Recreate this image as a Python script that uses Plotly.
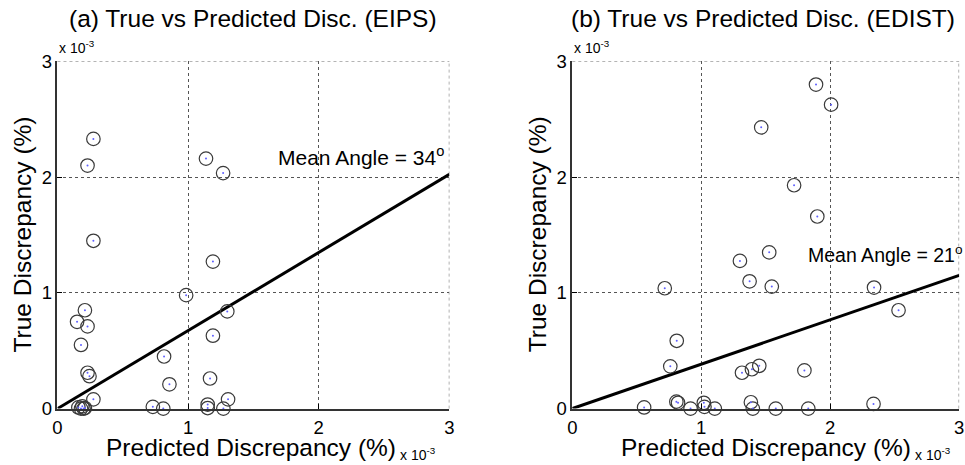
import numpy as np
import plotly.graph_objects as go

# Discrepancies in units of 1e-3 (%)
eips_pred = [0.275, 0.23, 0.275, 0.21, 0.15, 0.23, 0.18, 0.23, 0.245, 0.275,
             0.16, 0.18, 0.19, 0.21, 0.20,
             1.137, 1.268, 1.19, 0.985, 1.30, 1.19, 0.816, 0.857, 1.168, 1.306,
             0.73, 0.81, 1.15, 1.15, 1.27]
eips_true = [2.33, 2.10, 1.45, 0.85, 0.75, 0.71, 0.55, 0.31, 0.28, 0.08,
             0.01, 0.0, 0.02, 0.005, 0.0,
             2.16, 2.035, 1.27, 0.98, 0.84, 0.63, 0.45, 0.21, 0.26, 0.08,
             0.015, 0.0, 0.035, 0.005, 0.0]

edist_pred = [0.717, 0.81, 0.76, 1.30, 1.375, 1.316, 1.393, 1.45,
              0.557, 0.807, 0.82, 0.917, 1.02, 1.025, 1.105, 1.385, 1.40,
              1.89, 2.007, 1.465, 1.72, 1.90, 1.527, 1.547, 2.34, 2.53,
              1.80, 1.578, 1.83, 2.336]
edist_true = [1.04, 0.586, 0.365, 1.276, 1.10, 0.31, 0.34, 0.37,
              0.01, 0.06, 0.05, 0.0, 0.05, 0.015, 0.0, 0.055, 0.0,
              2.80, 2.626, 2.43, 1.93, 1.66, 1.35, 1.054, 1.046, 0.85,
              0.33, 0.0, 0.0, 0.04]

mean_angle_eips = 34   # degrees
mean_angle_edist = 21  # degrees

axis_ticks = [0, 1, 2, 3]
axis_range = [0, 3]

W, H = 965, 465
FONT = "Liberation Sans, Arial, sans-serif"

# layout positions are given in page pixels; these map them onto figure pixels
SX, OX = 0.99, 3.5
SY, OY = 0.957, 9.5


def px_x(p):
    return min(max((p - OX) / SX / W, 0.0), 1.0)


def px_y(p):
    return min(max(1 - (p - OY) / SY / H, 0.0), 1.0)


fig = go.Figure()


def add_panel(pred, true, angle, xa, ya):
    # fitted line through origin at the mean angle
    lx = np.array(axis_range, dtype=float)
    ly = np.tan(np.radians(angle)) * lx
    fig.add_trace(go.Scatter(x=lx, y=ly, mode="lines", xaxis=xa, yaxis=ya,
                             line=dict(color="black", width=3),
                             showlegend=False, hoverinfo="skip"))
    fig.add_trace(go.Scatter(x=pred, y=true, mode="markers", xaxis=xa, yaxis=ya,
                             cliponaxis=False,
                             marker=dict(symbol="circle-open", size=13.5, color="#3a3a3a",
                                         line=dict(color="#3a3a3a", width=1.2)),
                             showlegend=False))
    fig.add_trace(go.Scatter(x=pred, y=true, mode="markers", xaxis=xa, yaxis=ya,
                             cliponaxis=False,
                             marker=dict(symbol="circle", size=2, color="#6060ff"),
                             showlegend=False, hoverinfo="skip"))


add_panel(eips_pred, eips_true, mean_angle_eips, "x", "y")
add_panel(edist_pred, edist_true, mean_angle_edist, "x2", "y2")

grid_style = dict(color="#555555", width=1, dash="dot")
common_axis = dict(range=axis_range, tickvals=axis_ticks, ticks="inside", ticklen=5,
                   tickcolor="black", showline=True, linecolor="#333333", linewidth=1.5,
                   mirror=False, showgrid=True, gridcolor=grid_style["color"],
                   griddash="dot", gridwidth=1, zeroline=False,
                   tickfont=dict(family=FONT, size=18.5, color="black"))

ydom = [px_y(408), px_y(60)]
fig.update_layout(
    width=W, height=H, margin=dict(l=0, r=0, t=0, b=0),
    paper_bgcolor="white", plot_bgcolor="white",
    xaxis=dict(domain=[px_x(56), px_x(448)], anchor="y", ticklabelstandoff=1, **common_axis),
    yaxis=dict(domain=ydom, anchor="x", ticklabelstandoff=0, **common_axis),
    xaxis2=dict(domain=[px_x(571), px_x(958)], anchor="y2", ticklabelstandoff=1, **common_axis),
    yaxis2=dict(domain=ydom, anchor="x2", ticklabelstandoff=0, **common_axis),
)

# dotted grid lines along the upper and right edges of each panel
for xa, ya in (("x", "y"), ("x2", "y2")):
    fig.add_shape(type="line", xref=xa, yref=f"{ya} domain", x0=axis_range[1],
                  x1=axis_range[1], y0=0, y1=1, line=grid_style, layer="below")
    fig.add_shape(type="line", xref=f"{xa} domain", yref=ya, x0=0, x1=1,
                  y0=axis_range[1], y1=axis_range[1], line=grid_style, layer="below")

ann = []


def text(x, y, s, size, **kw):
    d = dict(x=px_x(x), y=px_y(y), xref="paper", yref="paper", text=s,
             showarrow=False, xanchor="center", yanchor="middle",
             font=dict(family=FONT, size=size, color="black"))
    d.update(kw)
    ann.append(d)


# panel titles
text(252, 17, "(a) True vs Predicted Disc. (EIPS)", 24.5)
text(762, 17, "(b) True vs Predicted Disc. (EDIST)", 24.5)
# axis titles and exponent labels
for x0 in (0, 515):
    text(250 + x0, 447, "Predicted Discrepancy (%)", 24.5)
    text(397 + x0, 454, "x 10<sup>-3</sup>", 14, xanchor="left")
    text(56 + x0, 46, "x 10<sup>-3</sup>", 14, xanchor="left")
text(22, 233, "True Discrepancy (%)", 24.5, textangle=-90)
text(537, 233, "True Discrepancy (%)", 24.5, textangle=-90)
# mean angle labels
text(275, 155, f"Mean Angle = {mean_angle_eips}<sup>o</sup>", 21, xanchor="left")
text(805, 253, f"Mean Angle = {mean_angle_edist}<sup>o</sup>", 19.5, xanchor="left")

fig.update_layout(annotations=ann)
fig.write_html("out.html")
